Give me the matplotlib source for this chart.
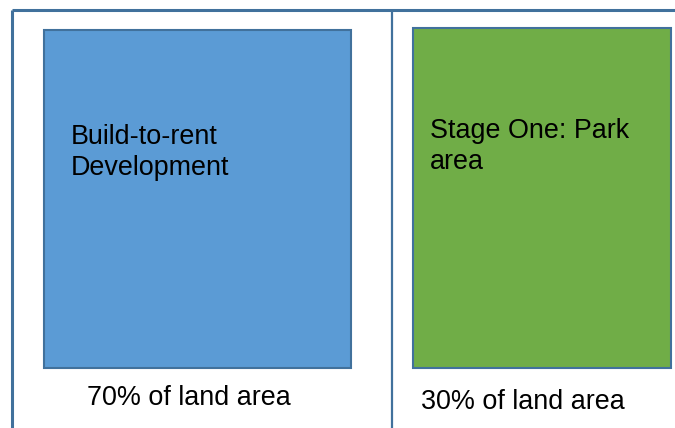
import matplotlib
matplotlib.use("Agg")
import matplotlib.pyplot as plt
from matplotlib.patches import Rectangle

plt.rcParams["font.family"] = ["Liberation Sans", "DejaVu Sans"]

# data
area_labels = ["Build-to-rent\nDevelopment", "Stage One: Park\narea"]
share_labels = ["70% of land area", "30% of land area"]
fill_colors = ["#5B9BD5", "#70AD47"]

# layout in pixel coordinates (x, y top, width, height)
BOXES = [(44, 30, 307, 338), (413, 28, 258, 340)]
LABEL_POS = [(71, 144), (430, 138)]
SHARE_POS = [(87, 405), (421, 409)]
EDGE = "#41719C"
FS = 19.4
W, H = 675, 428

fig = plt.figure(figsize=(W / 100, H / 100), dpi=100)
ax = fig.add_axes([0, 0, 1, 1])
ax.set_xlim(0, W)
ax.set_ylim(H, 0)
ax.axis("off")

# frame lines
ax.plot([11.5, W], [10, 10], color=EDGE, lw=2.2, solid_capstyle="butt")
ax.plot([11.5, 11.5], [10, H], color=EDGE, lw=2.2, solid_capstyle="butt")
ax.plot([392, 392], [10, H], color=EDGE, lw=1.6, solid_capstyle="butt")

for i, label in enumerate(area_labels):
    x, y, w, h = BOXES[i]
    ax.add_patch(Rectangle((x, y), w, h, facecolor=fill_colors[i],
                           edgecolor=EDGE, lw=1.5))
    lx, ly = LABEL_POS[i]
    ax.text(lx, ly, label.split("\n")[0], fontsize=FS, color="black",
            va="baseline", ha="left")
    ax.text(lx, ly + 31, label.split("\n")[1], fontsize=FS, color="black",
            va="baseline", ha="left")
    sx, sy = SHARE_POS[i]
    ax.text(sx, sy, share_labels[i], fontsize=FS, color="black",
            va="baseline", ha="left")

fig.savefig("out.png", dpi=100, facecolor="white")
